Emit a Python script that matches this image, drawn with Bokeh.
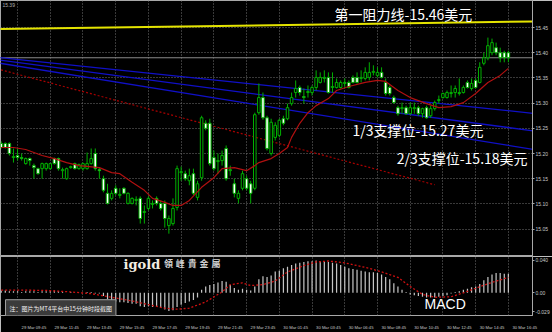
from bokeh.plotting import figure
from bokeh.layouts import column
from bokeh.models import Range1d, FixedTicker, Grid, Span, Label, ColumnDataSource, NumeralTickFormatter
from bokeh.core.properties import value
from bokeh.embed import file_html
from bokeh.resources import INLINE

# ---------------- data ----------------
bars = list(range(125))
opens = [15.220,15.220,15.220,15.192,15.196,15.192,15.180,15.190,15.176,15.170,
         15.170,15.170,15.170,15.190,15.190,15.166,15.150,15.172,15.180,15.170,
         15.170,15.170,15.180,15.200,15.168,15.150,15.121,15.111,15.131,15.117,
         15.131,15.101,15.101,15.107,15.111,15.083,15.091,15.099,15.111,15.101,
         15.101,15.057,15.061,15.093,15.162,15.160,15.146,15.160,15.113,15.152,
         15.260,15.260,15.192,15.184,15.186,15.210,15.166,15.140,15.111,15.131,
         15.150,15.140,15.131,15.281,15.311,15.271,15.200,15.232,15.236,15.269,
         15.269,15.299,15.321,15.331,15.313,15.321,15.321,15.331,15.341,15.349,
         15.351,15.331,15.331,15.331,15.339,15.341,15.351,15.351,15.349,15.349,
         15.351,15.361,15.355,15.361,15.341,15.331,15.311,15.291,15.289,15.291,
         15.279,15.289,15.291,15.279,15.291,15.275,15.289,15.305,15.311,15.311,
         15.319,15.321,15.319,15.321,15.341,15.329,15.345,15.341,15.379,15.390,
         15.400,15.410,15.400,15.400,15.400]
highs = [15.224,15.222,15.222,15.210,15.210,15.200,15.192,15.192,15.180,15.172,
         15.182,15.182,15.181,15.192,15.192,15.172,15.172,15.176,15.182,15.180,
         15.182,15.202,15.210,15.210,15.172,15.156,15.140,15.127,15.137,15.131,
         15.133,15.123,15.113,15.115,15.115,15.097,15.115,15.107,15.115,15.107,
         15.107,15.077,15.111,15.176,15.174,15.166,15.170,15.170,15.146,15.275,
         15.266,15.269,15.206,15.200,15.206,15.216,15.176,15.150,15.127,15.166,
         15.156,15.146,15.281,15.339,15.321,15.275,15.269,15.262,15.269,15.275,
         15.299,15.321,15.345,15.335,15.329,15.335,15.335,15.365,15.361,15.365,
         15.361,15.361,15.349,15.345,15.349,15.345,15.355,15.361,15.365,15.371,
         15.381,15.375,15.371,15.371,15.349,15.335,15.315,15.295,15.301,15.295,
         15.301,15.301,15.295,15.291,15.295,15.295,15.305,15.315,15.321,15.325,
         15.335,15.335,15.349,15.335,15.345,15.349,15.349,15.381,15.400,15.430,
         15.428,15.420,15.410,15.404,15.404]
lows = [15.210,15.210,15.196,15.182,15.186,15.186,15.178,15.176,15.150,15.158,
        15.150,15.166,15.168,15.178,15.166,15.150,15.148,15.170,15.168,15.168,
        15.166,15.168,15.178,15.166,15.150,15.123,15.099,15.107,15.117,15.111,
        15.119,15.099,15.099,15.097,15.061,15.061,15.087,15.091,15.097,15.087,
        15.053,15.041,15.057,15.087,15.146,15.146,15.137,15.117,15.107,15.146,
        15.246,15.176,15.166,15.160,15.176,15.146,15.156,15.113,15.101,15.127,
        15.127,15.101,15.127,15.277,15.267,15.206,15.196,15.226,15.232,15.256,
        15.266,15.295,15.311,15.315,15.299,15.311,15.315,15.325,15.339,15.341,
        15.319,15.321,15.329,15.329,15.331,15.329,15.339,15.339,15.341,15.345,
        15.345,15.355,15.351,15.349,15.315,15.315,15.299,15.275,15.279,15.277,
        15.277,15.279,15.275,15.271,15.269,15.271,15.285,15.299,15.309,15.309,
        15.311,15.311,15.315,15.319,15.329,15.325,15.329,15.339,15.375,15.385,
        15.395,15.395,15.381,15.381,15.381]
closes = [15.212,15.212,15.200,15.194,15.192,15.190,15.190,15.186,15.172,15.160,
          15.180,15.180,15.180,15.180,15.170,15.168,15.170,15.174,15.170,15.178,
          15.180,15.180,15.190,15.170,15.166,15.127,15.101,15.121,15.121,15.119,
          15.121,15.121,15.111,15.109,15.071,15.085,15.111,15.101,15.101,15.091,
          15.071,15.071,15.091,15.170,15.164,15.150,15.156,15.121,15.140,15.271,
          15.250,15.180,15.170,15.186,15.196,15.150,15.168,15.121,15.121,15.160,
          15.131,15.121,15.277,15.311,15.271,15.210,15.262,15.256,15.266,15.260,
          15.291,15.311,15.329,15.321,15.311,15.323,15.331,15.351,15.351,15.351,
          15.321,15.333,15.341,15.341,15.341,15.331,15.341,15.341,15.351,15.361,
          15.361,15.363,15.361,15.351,15.319,15.319,15.301,15.279,15.291,15.279,
          15.291,15.291,15.279,15.289,15.271,15.289,15.301,15.307,15.319,15.321,
          15.321,15.329,15.321,15.331,15.331,15.339,15.331,15.371,15.390,15.414,
          15.420,15.400,15.390,15.390,15.390]

# moving average (solid red) read at sample bars
ma_bar = [0,3,6,10,13,16,19,24,27,29,32,35,37,40,42,44,46,49,52,54,57,60,62,63,66,68,70,71,
          73,75,77,80,82,85,89,92,94,97,100,104,107,110,113,116,119,122,124]
ma_val = [15.212,15.212,15.208,15.196,15.190,15.182,15.176,15.172,15.162,15.160,15.143,15.127,
          15.111,15.103,15.097,15.097,15.107,15.133,15.152,15.170,15.172,15.166,15.176,15.182,
          15.190,15.200,15.212,15.232,15.260,15.281,15.295,15.309,15.325,15.333,15.341,15.345,
          15.343,15.325,15.311,15.299,15.291,15.293,15.301,15.319,15.341,15.355,15.369]

# drawn objects
res_x = [-1, 131]
res_y = [15.447, 15.462]            # resistance (yellow)
fan_x = [-1, 131]
fan_a = [15.391, 15.279]
fan_b = [15.386, 15.244]
fan_c = [15.380, 15.207]
trend_x = [-1, 106]
trend_y = [15.368, 15.138]          # dashed red trend
bid = 15.39

# MACD
macd_hist = [0.003,0.003,0.002,0.002,0.002,0.001,0.002,0.002,0.002,0.001,
             0.002,0.002,0.002,0.003,0.002,0.001,0.000,0.001,0.000,0.000,
             0.000,0.001,0.001,-0.001,-0.001,-0.004,-0.008,-0.010,-0.011,-0.012,
             -0.012,-0.013,-0.014,-0.014,-0.017,-0.018,-0.017,-0.018,-0.018,-0.019,
             -0.021,-0.023,-0.022,-0.018,-0.015,-0.013,-0.011,-0.009,-0.006,0.004,
             0.008,0.010,0.011,0.013,0.015,0.014,0.010,0.006,0.004,0.005,
             0.004,0.003,0.008,0.017,0.021,0.020,0.022,0.027,0.028,0.031,
             0.033,0.035,0.037,0.038,0.039,0.040,0.040,0.041,0.040,0.040,
             0.039,0.038,0.037,0.035,0.033,0.031,0.030,0.029,0.028,0.027,
             0.026,0.026,0.025,0.023,0.020,0.017,0.012,0.008,0.004,0.001,
             -0.002,-0.003,-0.004,-0.005,-0.006,-0.006,-0.006,-0.005,-0.004,-0.003,
             -0.001,0.001,0.002,0.004,0.005,0.007,0.008,0.011,0.016,0.020,
             0.023,0.025,0.025,0.024,0.024]
sig_bar = [0,5,11,17,22,27,32,36,40,43,46,50,54,56,59,61,64,67,70,74,77,80,84,87,90,93,
           97,100,103,106,110,113,116,119,124]
sig_val = [0.0034,0.0034,0.003,0.0011,-0.0011,-0.0057,-0.0103,-0.0149,-0.0195,-0.0207,
           -0.0195,-0.0115,0.0011,0.0103,0.0126,0.0092,0.0103,0.0149,0.0264,0.0344,0.039,
           0.0402,0.0379,0.0344,0.031,0.0264,0.0195,0.008,-0.002,-0.0057,-0.005,0.0,
           0.0057,0.0115,0.0195]

# axes
price_ticks = [15.05, 15.10, 15.15, 15.20, 15.25, 15.30, 15.35, 15.40, 15.45]
grid_bars = [4, 12, 20, 28, 36, 44, 52, 60, 68, 76, 84, 92, 100, 108, 116, 124]
time_labels = ["29 Mar 09:45", "29 Mar 11:45", "29 Mar 13:45", "29 Mar 15:45",
               "29 Mar 17:45", "29 Mar 19:45", "29 Mar 21:45", "29 Mar 23:45",
               "30 Mar 01:45", "30 Mar 03:45", "30 Mar 06:45", "30 Mar 08:45",
               "30 Mar 10:45", "30 Mar 12:45", "30 Mar 14:45", "30 Mar 16:45"]
macd_ticks = [0.0413, 0, -0.0241]
macd_tick_labels = ["0.040", "0.00", "-0.029"]
brand_chars = ["領", "峰", "貴", "金", "屬"]

GREEN = "#00b000"
GRID = "#737373"
AXIS_TXT = "#c8c8c8"

# ---------------- main price panel ----------------
p1 = figure(width=552, height=256, x_range=Range1d(-0.17, 129.9),
            y_range=Range1d(14.9957, 15.5036), toolbar_location=None,
            output_backend="svg", x_axis_location=None, y_axis_location="right",
            min_border_left=0, min_border_top=0, min_border_bottom=0, min_border_right=20,
            background_fill_color="black", border_fill_color="black")
p1.xgrid.grid_line_color = None
p1.ygrid.grid_line_color = None
p1.outline_line_color = "#a8a8a8"
p1.outline_line_width = 1

p1.add_layout(Grid(dimension=0, ticker=FixedTicker(ticks=grid_bars),
                   grid_line_color=GRID, grid_line_dash="1 2"))
p1.add_layout(Grid(dimension=1, ticker=FixedTicker(ticks=price_ticks),
                   grid_line_color=GRID, grid_line_dash="1 2"))

ya = p1.yaxis[0]
ya.ticker = FixedTicker(ticks=price_ticks)
ya.formatter = NumeralTickFormatter(format="0.00")
ya.major_label_text_font = "Liberation Sans"
ya.major_label_text_font_size = "5px"
ya.major_label_text_color = AXIS_TXT
ya.major_label_standoff = 1
ya.major_tick_out = 2
ya.major_tick_in = 0
ya.minor_tick_line_color = None
ya.major_tick_line_color = "#a8a8a8"
ya.axis_line_color = "#a8a8a8"

p1.add_layout(Span(location=bid, dimension="width", line_color="#8a8a8a",
                   line_width=1, level="underlay"))

# objects
p1.line(fan_x, fan_a, line_color="#1010c8", line_width=1.3)
p1.line(fan_x, fan_b, line_color="#1010c8", line_width=1.3)
p1.line(fan_x, fan_c, line_color="#1010c8", line_width=1.3)
p1.line(trend_x, trend_y, line_color="#a80000", line_width=1.2, line_dash="2 2")
p1.line(res_x, res_y, line_color="#e4e400", line_width=2)

# candles
up = [c > o for o, c in zip(opens, closes)]
src_up = ColumnDataSource(dict(
    x=[b for b, u in zip(bars, up) if u],
    top=[c for c, u in zip(closes, up) if u],
    bottom=[o for o, u in zip(opens, up) if u]))
src_dn = ColumnDataSource(dict(
    x=[b for b, u in zip(bars, up) if not u],
    top=[o for o, u in zip(opens, up) if not u],
    bottom=[c for c, u in zip(closes, up) if not u]))
p1.segment(x0=bars, y0=lows, x1=bars, y1=highs, line_color=GREEN, line_width=1)
p1.vbar(x="x", top="top", bottom="bottom", width=0.62, source=src_up,
        fill_color="black", line_color=GREEN, line_width=1)
p1.vbar(x="x", top="top", bottom="bottom", width=0.62, source=src_dn,
        fill_color="white", line_color=GREEN, line_width=1)

p1.line(ma_bar, ma_val, line_color="#b01010", line_width=1.2)

# texts
cjk = value("Noto Sans CJK SC")
p1.text(x=[81.5], y=[15.476], text=["第一阻力线-15.46美元"], text_font=cjk,
        text_font_size="14px", text_color="white", text_baseline="middle", text_align="left")
p1.text(x=[85.9], y=[15.246], text=["1/3支撑位-15.27美元"], text_font=cjk,
        text_font_size="14px", text_color="white", text_baseline="middle", text_align="left")
p1.text(x=[96.7], y=[15.192], text=["2/3支撑位-15.18美元"], text_font=cjk,
        text_font_size="14px", text_color="white", text_baseline="middle", text_align="left")
p1.text(x=[0.3], y=[15.494], text=["15.39"], text_font=value("Liberation Sans"),
        text_font_size="5px", text_color="#b0b0b0", text_baseline="middle", text_align="left")

p1.add_layout(Label(x=533, y=bid, x_units="screen", text="15.39",
                    text_font="Liberation Sans", text_font_size="5px", text_color="black",
                    text_baseline="middle", background_fill_color="white",
                    border_line_color="#d0d0d0", padding=1))

# ---------------- MACD panel ----------------
p2 = figure(width=552, height=76, x_range=p1.x_range, y_range=Range1d(-0.0287, 0.0459),
            toolbar_location=None, output_backend="svg", x_axis_location="below",
            y_axis_location="right", min_border_left=0, min_border_top=0,
            min_border_bottom=11, min_border_right=20,
            background_fill_color="black", border_fill_color="black")
p2.xgrid.grid_line_color = None
p2.ygrid.grid_line_color = None
p2.outline_line_color = "#a8a8a8"
p2.outline_line_width = 1
p2.add_layout(Grid(dimension=0, ticker=FixedTicker(ticks=grid_bars),
                   grid_line_color=GRID, grid_line_dash="1 2"))

xa = p2.xaxis[0]
label_pos = [g + 4 for g in grid_bars]
xa.ticker = FixedTicker(ticks=label_pos)
xa.major_label_overrides = {k: t for k, t in zip(label_pos, time_labels)}
xa.major_label_text_font = "Liberation Sans"
xa.major_label_text_font_size = "4.2px"
xa.major_label_text_color = AXIS_TXT
xa.major_label_standoff = 3
xa.major_tick_line_color = None
xa.minor_tick_line_color = None
xa.axis_line_color = None

ya2 = p2.yaxis[0]
ya2.ticker = FixedTicker(ticks=macd_ticks)
ya2.major_label_overrides = {k: t for k, t in zip(macd_ticks, macd_tick_labels)}
ya2.major_label_text_font = "Liberation Sans"
ya2.major_label_text_font_size = "5px"
ya2.major_label_text_color = AXIS_TXT
ya2.major_label_standoff = 1
ya2.major_tick_out = 2
ya2.major_tick_in = 0
ya2.minor_tick_line_color = None
ya2.major_tick_line_color = "#a8a8a8"
ya2.axis_line_color = "#a8a8a8"

p2.vbar(x=bars, top=macd_hist, bottom=0, width=0.3, fill_color="#c4c4c4",
        line_color=None)
p2.line(sig_bar, sig_val, line_color="#d01010", line_width=1.3, line_dash="2 2")

p2.text(x=[103.5], y=[-0.0144], text=["MACD"], text_font=value("Liberation Sans"),
        text_font_size="14px", text_color="white", text_baseline="middle", text_align="left")
p2.text(x=[29.9], y=[0.0360], text=["igold"], text_font=value("DejaVu Serif"),
        text_font_style="bold", text_font_size="13px", text_color="#f2ede2",
        text_baseline="middle", text_align="left")
p2.text(x=[39.8 + 2.9 * i for i in range(len(brand_chars))], y=[0.0365] * len(brand_chars),
        text=brand_chars, text_font=value("Noto Sans CJK TC"),
        text_font_style="bold", text_font_size="9px", text_color="#cfcfcf",
        text_baseline="middle", text_align="left")

p2.add_layout(Label(x=1.05, y=-0.0195, text="注：图片为MT4平台中15分钟时段截图",
                    text_font="Noto Sans CJK SC", text_font_size="6px", text_color="#f0f0f0",
                    text_baseline="middle", background_fill_color="#3b3b3b",
                    border_line_color="#a0a0a0", padding=4))

layout = column(p1, p2, spacing=0)
open("out.html", "w").write(file_html(layout, INLINE))
